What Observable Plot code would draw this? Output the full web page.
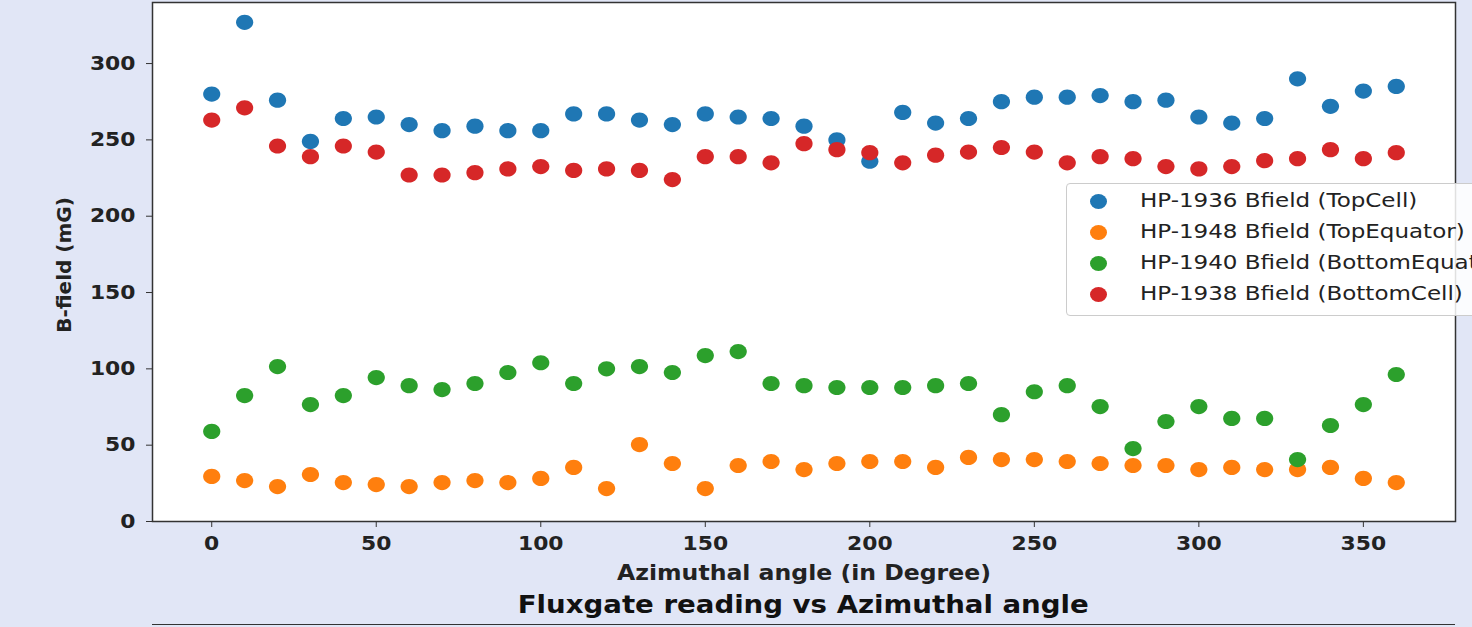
<!DOCTYPE html>
<html>
<head>
<meta charset="utf-8">
<script src="https://cdn.jsdelivr.net/npm/d3@7"></script>
<script src="https://cdn.jsdelivr.net/npm/@observablehq/plot@0.6"></script>
<style>
  html, body { margin: 0; padding: 0; background: #e1e6f6; width: 1472px; height: 627px; overflow: hidden; }
  #wrap { position: relative; width: 1472px; height: 627px; }
  #title { position: absolute; left: 152px; width: 1303px; top: 591px; text-align: center; line-height: 1;
           font: bold 24px "DejaVu Sans"; color: #111; }
  #title span { display: inline-block; transform: scaleX(1.15); }
  #rule { position: absolute; left: 152px; width: 1303px; top: 624px; height: 0; border-top: 1.5px solid #333; }
  #legend { position: absolute; left: 1066px; top: 183px; width: 440px; height: 131px;
            background: rgba(255,255,255,0.85); border: 1px solid #ccc; border-radius: 4px;
            font: 20px "DejaVu Sans"; color: #222; }
  .row { position: absolute; left: 0; height: 31px; line-height: 31px; white-space: nowrap; }
  .sw { position: absolute; left: 23px; top: 9px; width: 17px; height: 15px; border-radius: 50%; }
  .lab { position: absolute; left: 73px; top: 0; transform: scaleX(1.15); transform-origin: left center; }
</style>
</head>
<body>
<div id="wrap">
  <div id="chart"></div>
  <div id="legend"></div>
  <div id="title"><span>Fluxgate reading vs Azimuthal angle</span></div>
  <div id="rule"></div>
</div>
<script>
const angles = [0,10,20,30,40,50,60,70,80,90,100,110,120,130,140,150,160,170,180,190,200,210,220,230,240,250,260,270,280,290,300,310,320,330,340,350,360];
const topCell = [280,327,276,249,264,265,260,256,259,256,256,267,267,263,260,267,265,264,259,250,236,268,261,264,275,278,278,279,275,276,265,261,264,290,272,282,285];
const topEquator = [29.5,26.8,22.9,30.8,25.5,24.2,22.9,25.5,26.8,25.5,28.2,35.4,21.6,50.4,38,21.6,36.7,39.3,34,38,39.3,39.3,35.4,42,40.6,40.6,39.3,38,36.7,36.7,34,35.4,34,34,35.4,28.2,25.5];
const bottomEquator = [59,82.5,101.5,76.6,82.5,94.3,89,86.4,90.4,97.6,104,90.4,100,101.5,97.6,108.7,111.3,90.4,89,87.8,87.8,87.8,89,90.4,70,85,89,75.3,47.8,65.5,75.3,67.5,67.5,40.6,62.9,76.6,96.3];
const bottomCell = [263,271,246,239,246,242,227,227,228.5,231,232.5,230,231,230,224,239,239,235,247.5,243.6,241.6,235,240,242,245,242,235,239,237.7,232.5,231,232.5,236.4,237.7,243.6,237.7,241.6];
const seriesNames = ["HP-1936 Bfield (TopCell)","HP-1948 Bfield (TopEquator)","HP-1940 Bfield (BottomEquator)","HP-1938 Bfield (BottomCell)"];
const seriesColors = ["#1f77b4","#ff7f0e","#2ca02c","#d62728"];
const xTicks = [0,50,100,150,200,250,300,350];
const yTicks = [0,50,100,150,200,250,300];

const seriesValues = [topCell, topEquator, bottomEquator, bottomCell];
const rows = [];
seriesValues.forEach((vals, s) => vals.forEach((v, i) => rows.push({angle: angles[i], value: v, series: seriesNames[s]})));

// slightly wide ellipse marker, like the reference
const ellipse = {
  draw(ctx, size) {
    const rx = 8.6, ry = 7.6, k = 0.5523;
    ctx.moveTo(rx, 0);
    ctx.bezierCurveTo(rx, ry * k, rx * k, ry, 0, ry);
    ctx.bezierCurveTo(-rx * k, ry, -rx, ry * k, -rx, 0);
    ctx.bezierCurveTo(-rx, -ry * k, -rx * k, -ry, 0, -ry);
    ctx.bezierCurveTo(rx * k, -ry, rx, -ry * k, rx, 0);
    ctx.closePath();
  }
};

const chart = Plot.plot({
  width: 1472,
  height: 590,
  marginLeft: 152,
  marginRight: 17,
  marginTop: 2,
  marginBottom: 69,
  style: {background: "transparent", fontFamily: "DejaVu Sans", fontSize: "19px", fontWeight: "bold", color: "#222"},
  x: {domain: [-18, 378]},
  y: {domain: [0, 340]},
  color: {domain: seriesNames, range: seriesColors},
  marks: [
    Plot.rect([0], {x1: -18, x2: 378, y1: 0, y2: 340, fill: "white"}),
    Plot.dot(rows, {x: "angle", y: "value", fill: "series", symbol: ellipse, stroke: null}),
    Plot.frame({stroke: "#333", strokeWidth: 1.5}),
    Plot.axisX(xTicks, {tickSize: 6, tickPadding: 9, label: null, stroke: "#333"}),
    Plot.axisY(yTicks, {tickSize: 6, tickPadding: 11, label: null, stroke: "#333"}),
    Plot.axisX({anchor: "bottom", ticks: [], tickSize: 0, label: "Azimuthal angle (in Degree)", labelAnchor: "center", labelArrow: "none", labelOffset: 58, fontSize: 20.5}),
    Plot.axisY({anchor: "left", ticks: [], tickSize: 0, label: "B-field (mG)", labelAnchor: "center", labelArrow: "none", labelOffset: 96, fontSize: 20})
  ]
});
document.getElementById("chart").appendChild(chart);

// widen the axis texts horizontally to match the reference's stretched look
d3.select(chart).selectAll("g[aria-label='x-axis tick label'] text, g[aria-label='y-axis tick label'] text, g[aria-label='x-axis label'] text").each(function() {
  const t = this.getAttribute("transform") || "";
  this.setAttribute("transform", t + " scale(1.15,1)");
});
d3.select(chart).selectAll("g[aria-label='y-axis label'] text").each(function() {
  const t = this.getAttribute("transform") || "";
  this.setAttribute("transform", t + " translate(-3,0)");
});

const legend = document.getElementById("legend");
seriesNames.forEach((name, i) => {
  const row = document.createElement("div");
  row.className = "row";
  row.style.top = (1 + i * 31) + "px";
  row.innerHTML = `<span class="sw" style="background:${seriesColors[i]}"></span><span class="lab">${name}</span>`;
  legend.appendChild(row);
});
</script>
</body>
</html>
